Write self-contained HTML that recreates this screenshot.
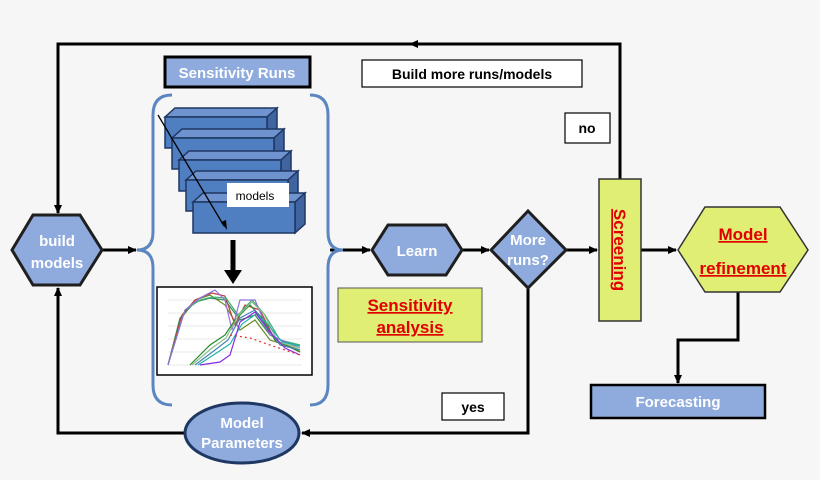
<!DOCTYPE html>
<html><head><meta charset="utf-8"><style>
html,body{margin:0;padding:0;background:#f6f6f6}
svg{display:block}
text{font-family:"Liberation Sans",sans-serif}
.w{fill:#fff;font-weight:bold;font-size:15px;text-anchor:middle}
.r{fill:#e00000;font-weight:bold;font-size:17px;text-anchor:middle;text-decoration:underline}
</style></head><body>
<svg width="820" height="480" viewBox="0 0 820 480">
<defs>
<marker id="a" markerWidth="10" markerHeight="10" refX="8" refY="5" orient="auto" markerUnits="userSpaceOnUse"><path d="M0,1 L9,5 L0,9 z" fill="#000"/></marker>
</defs>
<rect width="820" height="480" fill="#f6f6f6"/>
<g stroke="#000" stroke-width="3" fill="none">
<path d="M620,180 V44 H58 V213" marker-end="url(#a)"/>
<path d="M620,44 H410" marker-end="url(#a)"/>
<path d="M102,250 H136" marker-end="url(#a)"/>
<path d="M330,250 H370" marker-end="url(#a)"/>
<path d="M462,250 H489" marker-end="url(#a)"/>
<path d="M566,250 H597" marker-end="url(#a)"/>
<path d="M641,250 H676" marker-end="url(#a)"/>
<path d="M738,292 V340 H678 V383" marker-end="url(#a)"/>
<path d="M528,288 V433 H302" marker-end="url(#a)"/>
<path d="M185,433 H58 V288" marker-end="url(#a)"/>
</g>
<path d="M233,240 V272" stroke="#000" stroke-width="5"/>
<path d="M224,270 L242,270 L233,284 z" fill="#000"/>
<path d="M172,95 Q153,95 153,115 V232 Q153,250 137,250 Q153,250 153,268 V385 Q153,405 172,405" stroke="#5b86c0" stroke-width="3" fill="none"/>
<path d="M310,95 Q328,95 328,115 V232 Q328,250 343,250 Q328,250 328,268 V385 Q328,405 310,405" stroke="#5b86c0" stroke-width="3" fill="none"/>
<rect x="165" y="57" width="145" height="30" fill="#8faadc" stroke="#000" stroke-width="3"/>
<text x="237" y="78" class="w" font-size="15">Sensitivity Runs</text>
<g stroke="#1f3763" stroke-width="1.5">
<g id="b"><path d="M165,117 L175,108 L277,108 L267,117 z" fill="#6f93cf"/><path d="M267,117 L277,108 L277,139 L267,148 z" fill="#3f64a0"/><rect x="165" y="117" width="102" height="31" fill="#4f7fc0"/></g>
<use href="#b" transform="translate(7,21)"/>
<use href="#b" transform="translate(14,43)"/>
<use href="#b" transform="translate(21,63)"/>
<use href="#b" transform="translate(28,85)"/>
</g>
<rect x="227" y="183" width="62" height="24" fill="#fff"/>
<text x="255" y="200" font-size="12" text-anchor="middle" fill="#000">models</text>
<path d="M158,115 L224,226" stroke="#000" stroke-width="1.3"/>
<path d="M221,222 L227,230 L226,220 z" fill="#000"/>
<rect x="157" y="287" width="155" height="88" fill="#fff" stroke="#000" stroke-width="1.5"/>
<g stroke="#e4e4e4" stroke-width="0.7">
<path d="M168,300 H302 M168,313 H302 M168,326 H302 M168,339 H302 M168,352 H302 M168,365 H302"/>
</g>
<g fill="none" stroke-width="1.2">
<path d="M168,365 L180,320 L195,300 L210,295 L225,305 L240,330 L255,320 L270,340 L285,345 L300,350" stroke="#6b8e23"/>
<path d="M168,365 L180,318 L195,302 L210,298 L225,300 L240,320 L255,315 L270,335 L285,342 L300,346" stroke="#2e8b57"/>
<path d="M168,365 L182,315 L195,300 L212,293 L225,296 L235,325 L245,305 L260,310 L275,340 L300,352" stroke="#c04040"/>
<path d="M168,365 L185,310 L200,300 L212,297 L226,298 L238,315 L252,300 L265,315 L280,340 L300,345" stroke="#3cb371"/>
<path d="M168,365 L185,310 L200,298 L215,290 L225,300 L232,330 L240,300 L255,300 L270,335 L300,348" stroke="#9370db"/>
<path d="M190,365 L210,345 L225,335 L235,320 L250,305 L262,318 L275,340 L300,352" stroke="#228b22"/>
<path d="M192,365 L212,348 L226,338 L238,316 L252,302 L264,314 L278,342 L300,348" stroke="#8fbc8f"/>
<path d="M195,365 L215,350 L228,340 L240,318 L255,310 L265,325 L280,345 L300,350" stroke="#4682b4"/>
<path d="M198,365 L218,352 L230,344 L242,324 L256,314 L266,322 L282,342 L300,346" stroke="#20b2aa"/>
<path d="M200,365 L220,362 L230,355 L240,322 L255,312 L268,330 L285,348 L300,355" stroke="#8a2be2"/>
<path d="M230,335 L250,338 L270,345 L300,355" stroke="#e03030" stroke-dasharray="2,3"/>
</g>
<polygon points="372,250 388,225 446,225 462,250 446,275 388,275" fill="#8faadc" stroke="#1f1f1f" stroke-width="3"/>
<text x="417" y="256" class="w">Learn</text>
<polygon points="12,250 33,215 80,215 102,250 80,285 33,285" fill="#8faadc" stroke="#1f1f1f" stroke-width="3"/>
<text x="57" y="246" class="w">build</text>
<text x="57" y="268" class="w">models</text>
<polygon points="491,250 528,211 566,250 528,288" fill="#8faadc" stroke="#1f1f1f" stroke-width="3"/>
<text x="528" y="245" class="w" font-size="14">More</text>
<text x="528" y="265" class="w" font-size="14">runs?</text>
<rect x="599" y="179" width="42" height="142" fill="#e0ef74" stroke="#333" stroke-width="1.5"/>
<text class="r" transform="translate(614,250) rotate(90)" font-size="17">Screening</text>
<polygon points="678,250 705,207 780,207 808,250 780,292 705,292" fill="#e0ef74" stroke="#333" stroke-width="1.5"/>
<text x="743" y="240" class="r" font-size="16">Model</text>
<text x="743" y="274" class="r" font-size="16">refinement</text>
<rect x="338" y="288" width="144" height="54" fill="#e0ef74" stroke="#555" stroke-width="1"/>
<text x="410" y="311" class="r" font-size="17">Sensitivity</text>
<text x="410" y="333" class="r" font-size="17">analysis</text>
<rect x="591" y="385" width="174" height="33" fill="#8faadc" stroke="#000" stroke-width="2.5"/>
<text x="678" y="407" class="w">Forecasting</text>
<rect x="362" y="60" width="220" height="27" fill="#fff" stroke="#000" stroke-width="1.2"/>
<text x="472" y="79" font-size="14" text-anchor="middle" font-weight="bold">Build more runs/models</text>
<rect x="565" y="113" width="45" height="30" fill="#fff" stroke="#000" stroke-width="1.2"/>
<text x="587" y="133" font-size="14" text-anchor="middle" font-weight="bold">no</text>
<rect x="442" y="393" width="62" height="27" fill="#fff" stroke="#000" stroke-width="1.2"/>
<text x="473" y="412" font-size="14" text-anchor="middle" font-weight="bold">yes</text>
<ellipse cx="242" cy="433" rx="57" ry="30" fill="#8faadc" stroke="#1f3763" stroke-width="3"/>
<text x="242" y="428" class="w" font-size="14">Model</text>
<text x="242" y="448" class="w" font-size="14">Parameters</text>
</svg>
</body></html>
